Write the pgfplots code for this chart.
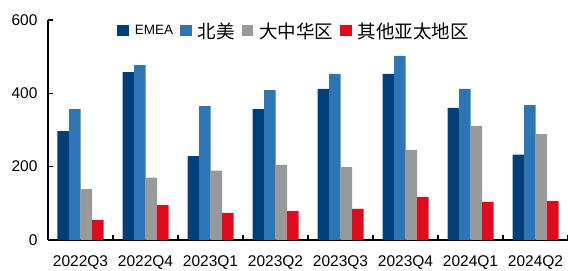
\documentclass[border=0pt]{standalone}
\usepackage{pgfplots}
\pgfplotsset{compat=1.18}
\usepackage{fontspec}
\setmainfont{Liberation Sans}
\newfontfamily\cjk{Noto Sans CJK SC}
\definecolor{cEMEA}{HTML}{003F7A}
\definecolor{cNA}{HTML}{2E75B6}
\definecolor{cGC}{HTML}{999999}
\definecolor{cAP}{HTML}{E00B1C}
\begin{document}
\begin{tikzpicture}
\begin{axis}[
  width=520pt, height=220pt, scale only axis,
  xmin=-0.5, xmax=7.5, ymin=0, ymax=600,
  ybar=0pt, bar width=11.5pt,
  axis x line*=bottom, axis y line*=left,
  axis line style={-, black, line width=1.1pt},
  tick align=inside, major tick length=5pt,
  tick style={black, line width=1.1pt},
  ytick={0,200,400,600},
  xtick={0.5,1.5,...,7.5}, xticklabels={},
  extra x ticks={0,1,2,3,4,5,6,7},
  extra x tick labels={2022Q3,2022Q4,2023Q1,2023Q2,2023Q3,2023Q4,2024Q1,2024Q2},
  extra x tick style={major tick length=0pt, tick style={draw=none}},
  /pgf/number format/assume math mode=true,
  ticklabel style={font=\fontsize{15.5}{18}\selectfont},
  xticklabel style={yshift=-12pt},
  yticklabel style={xshift=-7pt},
  legend style={draw=none, fill=none, inner sep=0pt, at={(rel axis cs:0.133,0.95)}, anchor=west,
    nodes={inner sep=1pt, anchor=west}, /tikz/every even column/.append style={column sep=6pt},
    /tikz/every odd column/.append style={column sep=5pt}},
  legend columns=-1,
  legend image code/.code={\fill[#1] (0pt,-5.5pt) rectangle (11.5pt,5.5pt);},
  clip=false,
]
\addplot[fill=cEMEA, draw=none] coordinates {(0,297) (1,458) (2,229) (3,357) (4,412) (5,453) (6,360) (7,233)};
\addlegendentry{\fontsize{13.5}{15}\selectfont EMEA}
\addplot[fill=cNA, draw=none] coordinates {(0,357) (1,477) (2,365) (3,409) (4,453) (5,502) (6,412) (7,368)};
\addlegendentry{\cjk\fontsize{18.5}{20}\selectfont 北美}
\addplot[fill=cGC, draw=none] coordinates {(0,139) (1,170) (2,189) (3,205) (4,199) (5,246) (6,311) (7,289)};
\addlegendentry{\cjk\fontsize{18.5}{20}\selectfont 大中华区}
\addplot[fill=cAP, draw=none] coordinates {(0,55) (1,95) (2,73) (3,79) (4,85) (5,117) (6,104) (7,106)};
\addlegendentry{\cjk\fontsize{18.5}{20}\selectfont 其他亚太地区}
\coordinate (sw) at (rel axis cs:0,0);
\coordinate (ne) at (rel axis cs:1,1);
\end{axis}
\pgfresetboundingbox
\useasboundingbox ([xshift=-48pt,yshift=-31pt]sw) rectangle ([yshift=20pt]ne);
\end{tikzpicture}
\end{document}
